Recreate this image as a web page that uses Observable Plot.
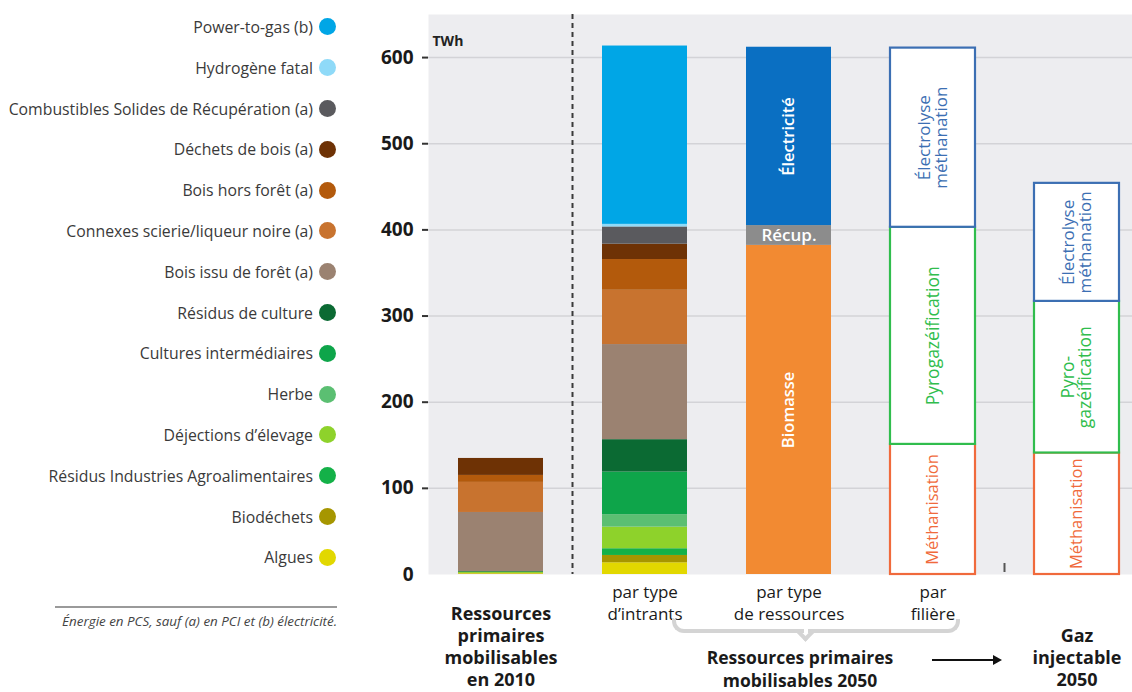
<!DOCTYPE html>
<html><head><meta charset="utf-8">
<script src="https://cdn.jsdelivr.net/npm/d3@7"></script>
<script src="https://cdn.jsdelivr.net/npm/@observablehq/plot@0.6"></script>
<style>
body{margin:0;background:#fff;font-family:"Open Sans",sans-serif;}
#wrap{position:relative;width:1132px;height:692px;overflow:hidden;}
#legend{position:absolute;left:0;top:6.6px;width:336px;}
.row{display:flex;justify-content:flex-end;align-items:center;height:40.8px;font-size:15.8px;color:#3a3a3a;white-space:nowrap;}
.dot{width:17px;height:17px;border-radius:50%;margin-left:6px;flex:none;}
#footrule{position:absolute;left:55px;top:606px;width:282px;height:0;border-top:2px solid #9a9a9a;}
#foot{position:absolute;left:20px;width:317px;top:612px;text-align:right;font-size:13.4px;font-style:italic;color:#444;white-space:nowrap;}
#chart{position:absolute;left:340px;top:0;}
.cap{position:absolute;left:680px;width:240px;text-align:center;font-weight:700;font-size:17.5px;line-height:24px;height:24px;color:#1a1a1a;white-space:nowrap;}
#cap1{top:645px;}
#cap2{top:668px;}
#arrowline{position:absolute;left:932px;top:659px;width:62px;border-top:2px solid #111;}
#arrowhead{position:absolute;left:993px;top:655px;width:0;height:0;border-top:5px solid transparent;border-bottom:5px solid transparent;border-left:9px solid #111;}
.brace{position:absolute;top:619px;height:10px;border-bottom:4px solid #d4d4d4;}
#braceL{left:672px;width:128px;border-left:4px solid #d4d4d4;border-bottom-left-radius:12px;}
#braceR{left:808px;width:148px;border-right:4px solid #d4d4d4;border-bottom-right-radius:12px;}
#braceM{position:absolute;left:799px;top:626px;width:9px;height:9px;border-right:4px solid #d4d4d4;border-bottom:4px solid #d4d4d4;transform:rotate(45deg);}
</style></head>
<body><div id="wrap">
<div id="legend"></div>
<div id="footrule"></div>
<div id="foot">Énergie en PCS, sauf (a) en PCI et (b) électricité.</div>
<div id="chart"></div>
<div class="brace" id="braceL"></div>
<div class="brace" id="braceR"></div>
<div id="braceM"></div>
<div class="cap" id="cap1">Ressources primaires</div>
<div class="cap" id="cap2">mobilisables 2050</div>
<div id="arrowline"></div>
<div id="arrowhead"></div>
</div>
<script>
// ---- categories (x axis) ----
const categories = ["2010", "intrants", "ressources", "filiere", "gaz"];
const categoryLabels = ["Ressources\nprimaires\nmobilisables\nen 2010", "par type\nd’intrants", "par type\nde ressources", "par\nfilière", "Gaz\ninjectable\n2050"];
const categoryBold = [true, false, false, false, true];

// ---- intrants (stack order bottom -> top) ----
const intrantNames = ["Algues", "Biodéchets", "Résidus Industries Agroalimentaires", "Déjections d’élevage", "Herbe", "Cultures intermédiaires", "Résidus de culture", "Bois issu de forêt (a)", "Connexes scierie/liqueur noire (a)", "Bois hors forêt (a)", "Déchets de bois (a)", "Combustibles Solides de Récupération (a)", "Hydrogène fatal", "Power-to-gas (b)"];
const intrantColors = ["#e2d800", "#a69600", "#14b148", "#8ed22b", "#5bbf72", "#0ea54a", "#0b6a33", "#9b8271", "#c8732f", "#b35a0c", "#6e3205", "#5a5a5e", "#8fdaf8", "#00a6e6"];
const intrants2010 = [0.8, 0.4, 0, 1.5, 0, 0, 0.8, 68.5, 34.9, 8.1, 19.7, 0, 0, 0];
const intrants2050 = [13.6, 8.5, 7.8, 25.1, 14.4, 49.5, 37.6, 110.4, 63, 35.7, 17.8, 20, 3, 207];

// ---- par type de ressources ----
const ressourceNames = ["Biomasse", "Récup.", "Électricité"];
const ressourceColors = ["#f28a32", "#8c8c8c", "#0a6fc2"];
const ressources2050 = [382, 23, 207];

// ---- par filière / gaz injectable ----
const filiereNames = ["Méthanisation", "Pyrogazéification", "Électrolyse méthanation"];
const filiereLabels = ["Méthanisation", "Pyrogazéification", "Électrolyse\nméthanation"];
const gazLabels = ["Méthanisation", "Pyro-\ngazéification", "Électrolyse\nméthanation"];
const filiereColors = ["#f06a3c", "#30bd4d", "#3c6fb3"];
const filiere2050 = [151, 252, 208];
const gazInjectable2050 = [141, 176, 137];

const yTicks = [0, 100, 200, 300, 400, 500, 600];

// ---- legend ----
const legend = document.getElementById("legend");
intrantNames.map((n, i) => ({n, c: intrantColors[i]})).reverse().forEach(({n, c}) => {
  const row = document.createElement("div"); row.className = "row";
  const t = document.createElement("span"); t.textContent = n;
  const d = document.createElement("span"); d.className = "dot"; d.style.background = c;
  row.append(t, d); legend.append(row);
});

// ---- tables ----
const intrantRows = [];
intrantNames.forEach((n, i) => intrantRows.push({cat: categories[0], name: n, value: intrants2010[i], color: intrantColors[i]}));
intrantNames.forEach((n, i) => intrantRows.push({cat: categories[1], name: n, value: intrants2050[i], color: intrantColors[i]}));
const ressourceRows = ressourceNames.map((n, i) => ({cat: categories[2], name: n, value: ressources2050[i], color: ressourceColors[i]}));
const filiereSizes = [16.5, 17.5, 17];
const filiereRows = [
  ...filiereNames.map((n, i) => ({cat: categories[3], name: n, label: filiereLabels[i], value: filiere2050[i], color: filiereColors[i], size: filiereSizes[i]})),
  ...filiereNames.map((n, i) => ({cat: categories[4], name: n, label: gazLabels[i], value: gazInjectable2050[i], color: filiereColors[i], size: filiereSizes[i]}))
];
const labelRows = categories.map((c, i) => ({cat: c, label: categoryLabels[i], bold: categoryBold[i]}));

const separators = (index, scales, values, dim) => {
  const x = scales.x, bw = x.bandwidth();
  const g = d3.create("svg:g");
  const xa = (x(categories[0]) + bw + x(categories[1])) / 2;
  g.append("line").attr("x1", xa).attr("x2", xa)
    .attr("y1", dim.marginTop).attr("y2", dim.height - dim.marginBottom)
    .attr("stroke", "#3a3a3a").attr("stroke-width", 2).attr("stroke-dasharray", "5,4");
  const xb = (x(categories[3]) + bw + x(categories[4])) / 2;
  g.append("line").attr("x1", xb).attr("x2", xb)
    .attr("y1", dim.height - dim.marginBottom - 11).attr("y2", dim.height - dim.marginBottom - 2)
    .attr("stroke", "#555").attr("stroke-width", 2);
  return g.node();
};

const chart = Plot.plot({
  width: 792, height: 692,
  marginLeft: 88, marginRight: 0, marginTop: 14, marginBottom: 118,
  style: {fontFamily: "Open Sans, sans-serif", background: "transparent"},
  x: {type: "band", domain: categories, paddingInner: 0.41, paddingOuter: 0.1425, align: 0.7, axis: null},
  y: {domain: [0, 650], axis: null},
  color: {type: "identity"},
  marks: [
    Plot.frame({fill: "#ededf0", stroke: "none"}),
    Plot.gridY(yTicks.slice(1), {stroke: "#d3d3d7", strokeOpacity: 1, strokeWidth: 1.5}),
    separators,
    Plot.barY(intrantRows, {x: "cat", y: "value", fill: "color"}),
    Plot.barY(ressourceRows, {x: "cat", y: "value", fill: "color"}),
    Plot.text(ressourceRows, Plot.stackY({x: "cat", y: "value", text: "name", fill: "white",
      rotate: d => d.name === "Récup." ? 0 : -90, fontSize: d => d.name === "Récup." ? 17 : 16.5, fontWeight: 600})),
    Plot.barY(filiereRows, {x: "cat", y: "value", fill: "white", stroke: "color", strokeWidth: 2.2}),
    Plot.text(filiereRows, Plot.stackY({x: "cat", y: "value", text: "label", fill: "color",
      rotate: -90, fontSize: "size", lineHeight: 1.0})),
    Plot.axisY(yTicks.slice(1), {tickSize: 6, tickPadding: 9, fontSize: 19, fontWeight: 700, fill: "#1a1a1a", stroke: "#333", strokeWidth: 2, label: null}),
    Plot.axisY([0], {tickSize: 0, tickPadding: 15, fontSize: 19, fontWeight: 700, fill: "#1a1a1a", label: null}),
    Plot.text(["TWh"], {frameAnchor: "top-left", dx: 4, dy: 22, fontSize: 14, fontWeight: 700, fill: "#222"}),
    Plot.text(labelRows.filter(d => d.bold), {x: "cat", text: "label", frameAnchor: "bottom", lineAnchor: "bottom", dy: 111, fontSize: 18, fontWeight: 700, lineHeight: 1.22, fill: "#1a1a1a"}),
    Plot.text(labelRows.filter(d => !d.bold), {x: "cat", text: "label", frameAnchor: "bottom", lineAnchor: "top", dy: 8, fontSize: 17, lineHeight: 1.3, fill: "#1a1a1a"})
  ]
});
document.getElementById("chart").append(chart);
</script>
</body></html>
